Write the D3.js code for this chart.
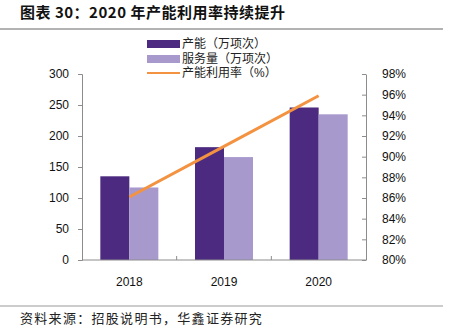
<!DOCTYPE html>
<html>
<head>
<meta charset="utf-8">
<script src="https://cdn.jsdelivr.net/npm/d3@7"></script>
<style>
  html, body { margin: 0; padding: 0; background: #fff; }
  svg { display: block; }
  text { font-family: "Liberation Sans", Arial, sans-serif; }
  .cjk { font-family: "Noto Sans CJK SC", sans-serif; }
  .legend-text { font-family: "Liberation Sans", "Noto Sans CJK SC", sans-serif; }
</style>
</head>
<body>
<svg id="chart" width="453" height="335"></svg>
<script>
// Capacity, services delivered (10k times) and utilisation rate by year
const years = ["2018", "2019", "2020"];
const capacity = [135, 182, 246];
const services = [117, 166, 235];
const utilization = [86.1, 91.0, 95.9];
const leftTicks = [0, 50, 100, 150, 200, 250, 300];
const rightTicks = [80, 82, 84, 86, 88, 90, 92, 94, 96, 98];
const seriesNames = ["产能（万项次）", "服务量（万项次）", "产能利用率（%）"];

const colors = { capacity: "#4B2A7F", services: "#A899CD", rate: "#F39341", axis: "#8c8c8c" };

const svg = d3.select("#chart");
const plot = { left: 82, right: 366, top: 74, bottom: 260 };

// Title and rules
svg.append("text").attr("class", "cjk")
  .attr("x", 20).attr("y", 18)
  .attr("font-size", 15).attr("font-weight", "bold").attr("fill", "#111")
  .attr("letter-spacing", 0.5)
  .text("图表 30：2020 年产能利用率持续提升");
svg.append("line").attr("x1", 0).attr("x2", 443).attr("y1", 29).attr("y2", 29)
  .attr("stroke", "#999").attr("stroke-width", 1.5);
svg.append("line").attr("x1", 0).attr("x2", 443).attr("y1", 306).attr("y2", 306)
  .attr("stroke", "#999").attr("stroke-width", 1.2);
svg.append("text").attr("class", "cjk")
  .attr("x", 20).attr("y", 323)
  .attr("font-size", 13).attr("fill", "#222").attr("letter-spacing", 1.3)
  .text("资料来源：招股说明书，华鑫证券研究");

// Scales
const x = d3.scaleBand().domain(years).range([plot.left, plot.right]).paddingInner(0).paddingOuter(0);
const yL = d3.scaleLinear().domain([0, 300]).range([plot.bottom, plot.top]);
const yR = d3.scaleLinear().domain([80, 98]).range([plot.bottom, plot.top]);
const barW = 29;

// Bars
const g = svg.append("g");
g.selectAll("rect.cap").data(years).join("rect").attr("class", "cap")
  .attr("x", d => x(d) + x.bandwidth() / 2 - barW)
  .attr("width", barW)
  .attr("y", (d, i) => yL(capacity[i]))
  .attr("height", (d, i) => plot.bottom - yL(capacity[i]))
  .attr("fill", colors.capacity);
g.selectAll("rect.svc").data(years).join("rect").attr("class", "svc")
  .attr("x", d => x(d) + x.bandwidth() / 2)
  .attr("width", barW)
  .attr("y", (d, i) => yL(services[i]))
  .attr("height", (d, i) => plot.bottom - yL(services[i]))
  .attr("fill", colors.services);

// Left axis
const axL = svg.append("g").attr("transform", `translate(${plot.left},0)`)
  .call(d3.axisLeft(yL).tickValues(leftTicks).tickSize(4).tickPadding(9));
axL.select(".domain").attr("stroke", colors.axis);
axL.selectAll(".tick line").attr("stroke", colors.axis);
axL.selectAll(".tick text").attr("font-size", 12).attr("fill", "#111")
  .attr("font-family", "Liberation Sans, Arial, sans-serif");

// Right axis (ticks point into plot area)
const axR = svg.append("g").attr("transform", `translate(${plot.right},0)`)
  .call(d3.axisRight(yR).tickValues(rightTicks).tickSize(0).tickPadding(16)
    .tickFormat(d => d + "%"));
axR.select(".domain").attr("stroke", colors.axis);
axR.selectAll(".tick").append("line").attr("x1", -4).attr("x2", 0).attr("stroke", colors.axis);
axR.selectAll(".tick text").attr("font-size", 12).attr("fill", "#111")
  .attr("font-family", "Liberation Sans, Arial, sans-serif");

// Bottom axis with boundary ticks
const axB = svg.append("g").attr("transform", `translate(0,${plot.bottom})`);
axB.append("line").attr("x1", plot.left).attr("x2", plot.right).attr("stroke", colors.axis);
const bounds = years.slice(1).map(d => x(d));
axB.selectAll("line.b").data(bounds).join("line").attr("class", "b")
  .attr("x1", d => d).attr("x2", d => d).attr("y1", 0).attr("y2", -4).attr("stroke", colors.axis);
axB.selectAll("text").data(years).join("text")
  .attr("x", d => x(d) + x.bandwidth() / 2).attr("y", 26)
  .attr("text-anchor", "middle").attr("font-size", 12).attr("fill", "#111")
  .text(d => d);

// Utilisation line
const line = d3.line().x((d, i) => x(years[i]) + x.bandwidth() / 2).y(d => yR(d));
svg.append("path").datum(utilization)
  .attr("d", line).attr("fill", "none")
  .attr("stroke", colors.rate).attr("stroke-width", 3);

// Legend
const leg = svg.append("g");
const rows = [44, 59, 73];
leg.append("rect").attr("x", 147).attr("y", rows[0] - 4).attr("width", 33).attr("height", 8).attr("fill", colors.capacity);
leg.append("rect").attr("x", 147).attr("y", rows[1] - 4).attr("width", 33).attr("height", 8).attr("fill", colors.services);
leg.append("line").attr("x1", 147).attr("x2", 180).attr("y1", rows[2]).attr("y2", rows[2])
  .attr("stroke", colors.rate).attr("stroke-width", 2);
leg.selectAll("text").data(seriesNames).join("text").attr("class", "legend-text")
  .attr("x", 182).attr("y", (d, i) => rows[i] + 4)
  .attr("font-size", 12).attr("fill", "#222")
  .text(d => d);
</script>
</body>
</html>
